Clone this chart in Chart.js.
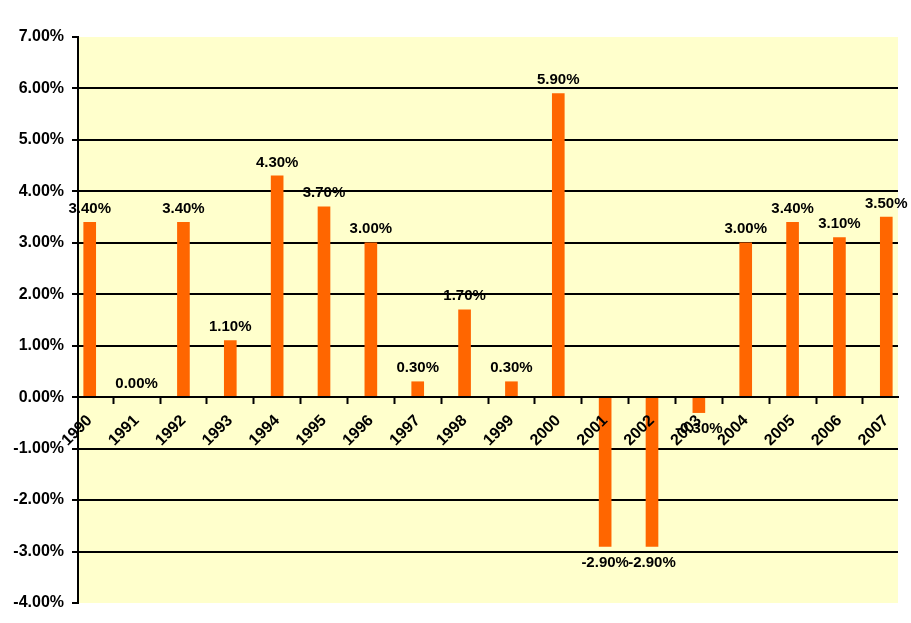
<!DOCTYPE html>
<html>
<head>
<meta charset="utf-8">
<script src="https://cdn.jsdelivr.net/npm/chart.js@4.4.1/dist/chart.umd.min.js"></script>
<style>
  html, body { margin: 0; padding: 0; background: #fff; }
  #wrap { width: 911px; height: 623px; }
</style>
</head>
<body>
<div id="wrap"><canvas id="growthChart" width="911" height="623"></canvas></div>
<script>
// data
const years = ['1990', '1991', '1992', '1993', '1994', '1995', '1996', '1997', '1998',
               '1999', '2000', '2001', '2002', '2003', '2004', '2005', '2006', '2007'];
const growth = [3.4, 0.0, 3.4, 1.1, 4.3, 3.7, 3.0, 0.3, 1.7, 0.3, 5.9, -2.9, -2.9, -0.3, 3.0, 3.4, 3.1, 3.5];
const yMin = -4;
const yMax = 7;

// plot background
const plotBg = {
    id: 'plotBg',
    beforeDraw(chart) {
        const a = chart.chartArea;
        const ctx = chart.ctx;
        ctx.save();
        ctx.fillStyle = '#FFFFCC';
        ctx.fillRect(a.left, a.top, a.right - a.left, a.bottom - a.top);
        ctx.restore();
    }
};

// value labels above / below bars
const valueLabels = {
    id: 'valueLabels',
    afterDraw(chart) {
        const ctx = chart.ctx;
        const meta = chart.getDatasetMeta(0);
        ctx.save();
        ctx.font = 'bold 15px "Liberation Sans", Arial, sans-serif';
        ctx.fillStyle = '#000';
        ctx.textAlign = 'center';
        meta.data.forEach((bar, i) => {
            const v = growth[i];
            const txt = v.toFixed(2) + '%';
            if (v >= 0) {
                ctx.textBaseline = 'bottom';
                ctx.fillText(txt, bar.x, bar.y - 6);
            } else {
                ctx.textBaseline = 'top';
                ctx.fillText(txt, bar.x, bar.y + 9);
            }
        });
        ctx.restore();
    }
};

const ctx = document.getElementById('growthChart').getContext('2d');
const growthChart = new Chart(ctx, {
    type: 'bar',
    data: {
        datasets: [{
            data: growth.map((v, i) => ({ x: i, y: v })),
            backgroundColor: '#FF6600',
            borderWidth: 0,
            barThickness: 12
        }]
    },
    options: {
        responsive: false,
        animation: false,
        layout: { padding: { top: 37, right: 13, bottom: 20, left: 0 } },
        plugins: {
            legend: { display: false },
            tooltip: { enabled: false }
        },
        scales: {
            x: {
                type: 'linear',
                position: { y: 0 },
                offset: false,
                min: -0.25,
                max: 17.25,
                afterBuildTicks: (scale) => {
                    scale.ticks = years.map((_, i) => ({ value: i }));
                },
                grid: {
                    drawOnChartArea: false,
                    drawTicks: true,
                    tickLength: 6,
                    tickColor: '#000',
                    tickWidth: 2
                },
                border: { display: true, color: '#000', width: 2, z: 1 },
                ticks: {
                    z: 1,
                    autoSkip: false,
                    maxRotation: 45,
                    minRotation: 45,
                    padding: 8,
                    color: '#000',
                    font: { family: '"Liberation Sans", Arial, sans-serif', size: 16, weight: 'bold' },
                    callback: (v) => years[v] ?? ''
                }
            },
            y: {
                min: yMin,
                max: yMax,
                afterFit: (scale) => { scale.width = 78; },
                ticks: {
                    stepSize: 1,
                    padding: 8,
                    color: '#000',
                    font: { family: '"Liberation Sans", Arial, sans-serif', size: 16, weight: 'bold' },
                    callback: (v) => v.toFixed(2) + '%'
                },
                grid: {
                    color: (c) => (c.tick && (c.tick.value === yMax || c.tick.value === yMin)) ? 'rgba(0,0,0,0)' : '#000',
                    lineWidth: 2,
                    tickColor: '#000',
                    tickLength: 6,
                    tickWidth: 2
                },
                border: { display: true, color: '#000', width: 2 }
            }
        }
    },
    plugins: [plotBg, valueLabels]
});
</script>
</body>
</html>
